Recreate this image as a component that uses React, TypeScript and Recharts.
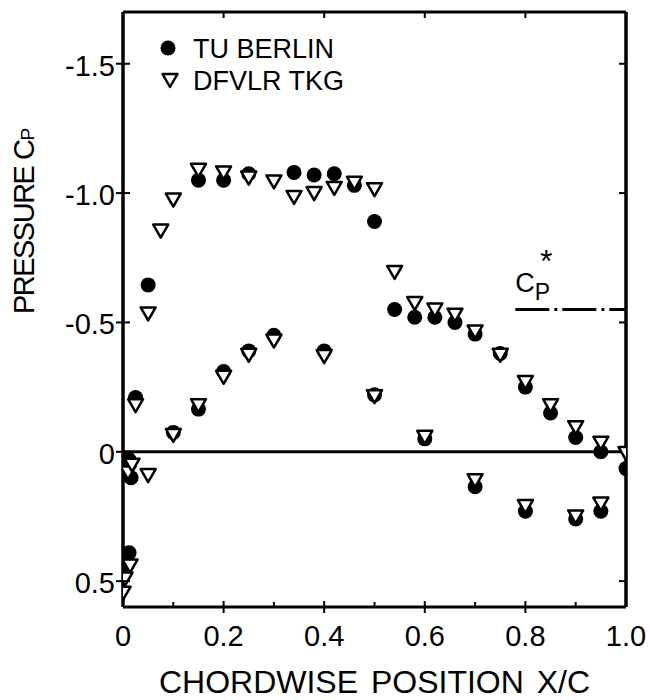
import { ScatterChart, Scatter, XAxis, YAxis, ReferenceLine, Legend } from "recharts";

// TU Berlin measurements (filled circles)
const tuBerlinX = [
  0.003, 0.012, 0.012, 0.016, 0.025, 0.05, 0.15, 0.2, 0.25, 0.34, 0.38, 0.42, 0.46, 0.5, 0.54, 0.58, 0.62,
  0.66, 0.7, 0.75, 0.8, 0.85, 0.9, 0.95, 1.0,
  0.1, 0.15, 0.2, 0.25, 0.3, 0.4, 0.5, 0.6, 0.7, 0.8, 0.9, 0.95,
];
const tuBerlinCp = [
  0.46, 0.39, 0.03, 0.1, -0.21, -0.645, -1.05, -1.05, -1.075, -1.08, -1.07, -1.075, -1.03, -0.89, -0.55,
  -0.52, -0.52, -0.5, -0.455, -0.38, -0.25, -0.15, -0.055, 0.0, 0.065,
  -0.075, -0.165, -0.31, -0.39, -0.45, -0.39, -0.22, -0.05, 0.135, 0.23, 0.26, 0.23,
];

// DFVLR TKG measurements (open triangles)
const dfvlrX = [
  0.0, 0.004, 0.014, 0.01, 0.018, 0.025, 0.05, 0.05, 0.075, 0.1, 0.15, 0.2, 0.25, 0.3, 0.34, 0.38, 0.42,
  0.46, 0.5, 0.54, 0.58, 0.62, 0.66, 0.7, 0.75, 0.8, 0.85, 0.9, 0.95, 1.0,
  0.1, 0.15, 0.2, 0.25, 0.3, 0.4, 0.5, 0.6, 0.7, 0.8, 0.9, 0.95,
];
const dfvlrCp = [
  0.545, 0.49, 0.44, 0.08, 0.05, -0.18, 0.09, -0.535, -0.855, -0.975, -1.09, -1.08, -1.06, -1.045, -0.985,
  -1.0, -1.02, -1.04, -1.015, -0.695, -0.575, -0.55, -0.53, -0.465, -0.375, -0.27, -0.18, -0.095, -0.035, 0.005,
  -0.065, -0.18, -0.29, -0.375, -0.43, -0.37, -0.215, -0.058, 0.11, 0.21, 0.25, 0.2,
];

const seriesNames = ["TU BERLIN", "DFVLR TKG"];

const xTicks = [0, 0.1, 0.2, 0.3, 0.4, 0.5, 0.6, 0.7, 0.8, 0.9, 1.0];
const xTickLabels = ["0", "", "0.2", "", "0.4", "", "0.6", "", "0.8", "", "1.0"];
const yTicks = [-1.5, -1.0, -0.5, 0, 0.5];
const yTickLabels = ["-1.5", "-1.0", "-0.5", "0", "0.5"];

const cpStar = -0.55;
const cpStarFrom = 0.78;

const FONT = "'Liberation Sans', Arial, sans-serif";

const tuBerlin = tuBerlinX.map((x, i) => ({ x, cp: tuBerlinCp[i] }));
const dfvlr = dfvlrX.map((x, i) => ({ x, cp: dfvlrCp[i] }));

function Dot(p: any) {
  return <circle cx={p.cx} cy={p.cy} r={7.5} fill="#000" />;
}

function triPoints(cx: number, cy: number) {
  return `${cx - 7.5},${cy - 6} ${cx + 7.5},${cy - 6} ${cx},${cy + 7}`;
}

function Tri(p: any) {
  return (
    <polygon
      points={triPoints(p.cx, p.cy)}
      fill="#fff"
      stroke="#000"
      strokeWidth={2.5}
      strokeLinejoin="round"
    />
  );
}

function BottomTick(props: any) {
  const { x, y, payload } = props;
  const i = xTicks.indexOf(payload.value);
  const label = xTickLabels[i] || "";
  const edge = i === 0 || i === xTicks.length - 1;
  return (
    <g>
      {!edge && label !== "" && <line x1={x} x2={x} y1={y - 6} y2={y + 6} stroke="#000" strokeWidth={2} />}
      {!edge && label === "" && <line x1={x} x2={x} y1={y - 5} y2={y} stroke="#000" strokeWidth={2} />}
      {label !== "" && (
        <text x={x} y={y + 39} textAnchor="middle" fontSize={29} fontFamily={FONT} fill="#000">
          {label}
        </text>
      )}
    </g>
  );
}

function TopTick(props: any) {
  const { x, y, payload } = props;
  const i = xTicks.indexOf(payload.value);
  if (i <= 0 || i >= xTicks.length - 1 || xTickLabels[i] === "") return <g />;
  return <line x1={x} x2={x} y1={y} y2={y + 6} stroke="#000" strokeWidth={2} />;
}

function LeftTick(props: any) {
  const { x, y, payload } = props;
  const i = yTicks.indexOf(payload.value);
  return (
    <g>
      <line x1={x - 7} x2={x + 7} y1={y} y2={y} stroke="#000" strokeWidth={2} />
      <text x={x - 8} y={y + 12} textAnchor="end" fontSize={29} fontFamily={FONT} fill="#000">
        {yTickLabels[i]}
      </text>
    </g>
  );
}

function RightTick(props: any) {
  const { x, y, payload } = props;
  if (payload.value === 0) return <g />;
  return <line x1={x - 7} x2={x} y1={y} y2={y} stroke="#000" strokeWidth={2} />;
}

function XTitle(props: any) {
  const { x, y, width } = props.viewBox;
  return (
    <text x={x + width / 2} y={y + 86} textAnchor="middle" fontSize={32} fontFamily={FONT} fill="#000" wordSpacing={4}>
      CHORDWISE POSITION  X/C
    </text>
  );
}

function YTitle(props: any) {
  const { x, y } = props.viewBox;
  const cx = x + 34;
  const cy = y + 209;
  return (
    <text
      x={cx}
      y={cy}
      transform={`rotate(-90 ${cx} ${cy})`}
      textAnchor="middle"
      fontSize={29}
      letterSpacing={-1.5}
      fontFamily={FONT}
      fill="#000"
    >
      PRESSURE C<tspan fontSize={19} letterSpacing={0}>P</tspan>
    </text>
  );
}

// C_P* : C with a lowered P, star set just above the P
function CpStarLabel(props: any) {
  const { x, y } = props.viewBox;
  return (
    <g fontFamily={FONT} fill="#000">
      <text x={x} y={y - 18} fontSize={27}>
        C
        <tspan fontSize={23} dy={8}>
          P
        </tspan>
      </text>
      <text x={x + 31} y={y - 38} fontSize={32} textAnchor="middle">
        *
      </text>
    </g>
  );
}

function LegendBox() {
  return (
    <svg width={220} height={80} style={{ display: "block" }}>
      <circle cx={18} cy={20} r={7.5} fill="#000" />
      <text x={43} y={30} fontSize={27} fontFamily={FONT} fill="#000">
        {seriesNames[0]}
      </text>
      <polygon points={triPoints(20, 52)} fill="#fff" stroke="#000" strokeWidth={2.5} strokeLinejoin="round" />
      <text x={43} y={62} fontSize={27} fontFamily={FONT} fill="#000">
        {seriesNames[1]}
      </text>
    </svg>
  );
}

export default function App() {
  return (
    <div style={{ position: "absolute", left: 0, top: 0, width: 650, height: 700, background: "#fff" }}>
      <ScatterChart width={650} height={700} margin={{ top: 2, right: 14, bottom: 0, left: 0 }}>
        <XAxis
          xAxisId="b"
          type="number"
          dataKey="x"
          domain={[0, 1]}
          ticks={xTicks}
          interval={0}
          allowDataOverflow
          height={93}
          tickSize={0}
          tickMargin={0}
          tickLine={false}
          tick={<BottomTick />}
          axisLine={{ stroke: "#000", strokeWidth: 3 }}
          label={<XTitle />}
        />
        <XAxis
          xAxisId="t"
          orientation="top"
          type="number"
          dataKey="x"
          domain={[0, 1]}
          ticks={xTicks}
          interval={0}
          allowDataOverflow
          height={10}
          tickSize={0}
          tickMargin={0}
          tickLine={false}
          tick={<TopTick />}
          axisLine={{ stroke: "#000", strokeWidth: 3 }}
        />
        <YAxis
          yAxisId="l"
          type="number"
          dataKey="cp"
          domain={[-1.7, 0.6]}
          reversed
          ticks={yTicks}
          interval={0}
          allowDataOverflow
          width={123}
          tickSize={0}
          tickMargin={0}
          tickLine={false}
          tick={<LeftTick />}
          axisLine={{ stroke: "#000", strokeWidth: 3.5 }}
          label={<YTitle />}
        />
        <YAxis
          yAxisId="r"
          orientation="right"
          type="number"
          dataKey="cp"
          domain={[-1.7, 0.6]}
          reversed
          ticks={yTicks}
          interval={0}
          allowDataOverflow
          width={10}
          tickSize={0}
          tickMargin={0}
          tickLine={false}
          tick={<RightTick />}
          axisLine={{ stroke: "#000", strokeWidth: 3.5 }}
        />
        <ReferenceLine xAxisId="b" yAxisId="l" y={0} stroke="#000" strokeWidth={3} />
        <ReferenceLine
          xAxisId="b"
          yAxisId="l"
          segment={[
            { x: cpStarFrom, y: cpStar },
            { x: 1, y: cpStar },
          ]}
          stroke="#000"
          strokeWidth={3}
          strokeDasharray="34 5 3 5"
          label={<CpStarLabel />}
        />
        <Legend
          layout="horizontal"
          verticalAlign="middle"
          align="center"
          content={<LegendBox />}
          wrapperStyle={{ left: 150, top: 28, width: 220, height: 80 }}
        />
        <Scatter
          name={seriesNames[0]}
          data={tuBerlin}
          xAxisId="b"
          yAxisId="l"
          shape={<Dot />}
          isAnimationActive={false}
        />
        <Scatter
          name={seriesNames[1]}
          data={dfvlr}
          xAxisId="b"
          yAxisId="l"
          shape={<Tri />}
          isAnimationActive={false}
        />
      </ScatterChart>
    </div>
  );
}
